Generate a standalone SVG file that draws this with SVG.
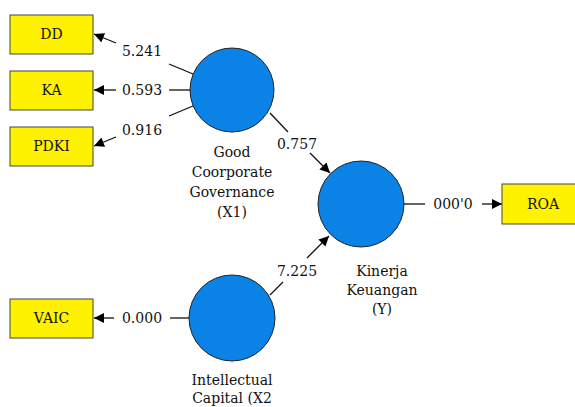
<svg xmlns="http://www.w3.org/2000/svg" width="575" height="407" viewBox="0 0 575 407">
<defs>
<marker id="ah" viewBox="0 0 10 10" refX="10" refY="5" markerWidth="10" markerHeight="10" markerUnits="userSpaceOnUse" orient="auto">
<path d="M0,0 L10,5 L0,10 z" fill="#000"/>
</marker>
<style>
.box{fill:#FFF200;stroke:#444;stroke-width:1}
.lv{fill:#0A82E6;stroke:#222;stroke-width:1}
text{font-family:"DejaVu Serif","Liberation Serif",serif;font-size:14px;fill:#111;text-anchor:middle}
.ln{stroke:#111;stroke-width:1.3;fill:none}
.ar{stroke:#111;stroke-width:1.3;fill:none;marker-end:url(#ah)}
</style>
</defs>
<rect width="575" height="407" fill="#fff"/>
<g id="connectors">
<line class="ln" x1="169" y1="64" x2="193" y2="74"/>
<line class="ar" x1="116" y1="43" x2="94" y2="34"/>
<text x="142" y="56">5.241</text>
<line class="ln" x1="169" y1="90" x2="190" y2="90"/>
<line class="ar" x1="116" y1="90" x2="94" y2="90"/>
<text x="142" y="95">0.593</text>
<line class="ln" x1="169" y1="116" x2="193" y2="106"/>
<line class="ar" x1="116" y1="137" x2="94" y2="146"/>
<text x="142" y="135">0.916</text>
<line class="ln" x1="270" y1="113" x2="288" y2="132"/>
<line class="ar" x1="310" y1="153" x2="330" y2="173"/>
<text x="297" y="149">0.757</text>
<line class="ln" x1="270" y1="295" x2="283" y2="282"/>
<line class="ar" x1="307" y1="258" x2="329" y2="236"/>
<text x="297" y="276">7.225</text>
<line class="ln" x1="404" y1="204" x2="425" y2="204"/>
<line class="ar" x1="482" y1="204" x2="502" y2="204"/>
<text x="453" y="209">000'0</text>
<line class="ln" x1="170" y1="318" x2="190" y2="318"/>
<line class="ar" x1="114" y1="318" x2="94" y2="318"/>
<text x="142" y="323">0.000</text>
</g>
<g id="DD"><rect class="box" x="10" y="15" width="83" height="39"/><text x="51.5" y="39">DD</text></g>
<g id="KA"><rect class="box" x="10" y="71" width="83" height="39"/><text x="51.5" y="95">KA</text></g>
<g id="PDKI"><rect class="box" x="10" y="127" width="83" height="39"/><text x="51.5" y="151">PDKI</text></g>
<g id="VAIC"><rect class="box" x="10" y="299" width="83" height="39"/><text x="51.5" y="323">VAIC</text></g>
<g id="ROA"><rect class="box" x="502" y="184" width="83" height="40"/><text x="543" y="209">ROA</text></g>
<g id="X1"><circle class="lv" cx="232" cy="90" r="42"/>
<text x="232" y="157">Good</text><text x="232" y="177">Coorporate</text><text x="232" y="197">Governance</text><text x="232" y="217">(X1)</text></g>
<g id="Y"><circle class="lv" cx="361" cy="204" r="43"/>
<text x="382" y="276">Kinerja</text><text x="382" y="295">Keuangan</text><text x="382" y="314">(Y)</text></g>
<g id="X2"><circle class="lv" cx="232" cy="318" r="43"/>
<text x="232" y="385">Intellectual</text><text x="232" y="403">Capital (X2</text></g>
</svg>
